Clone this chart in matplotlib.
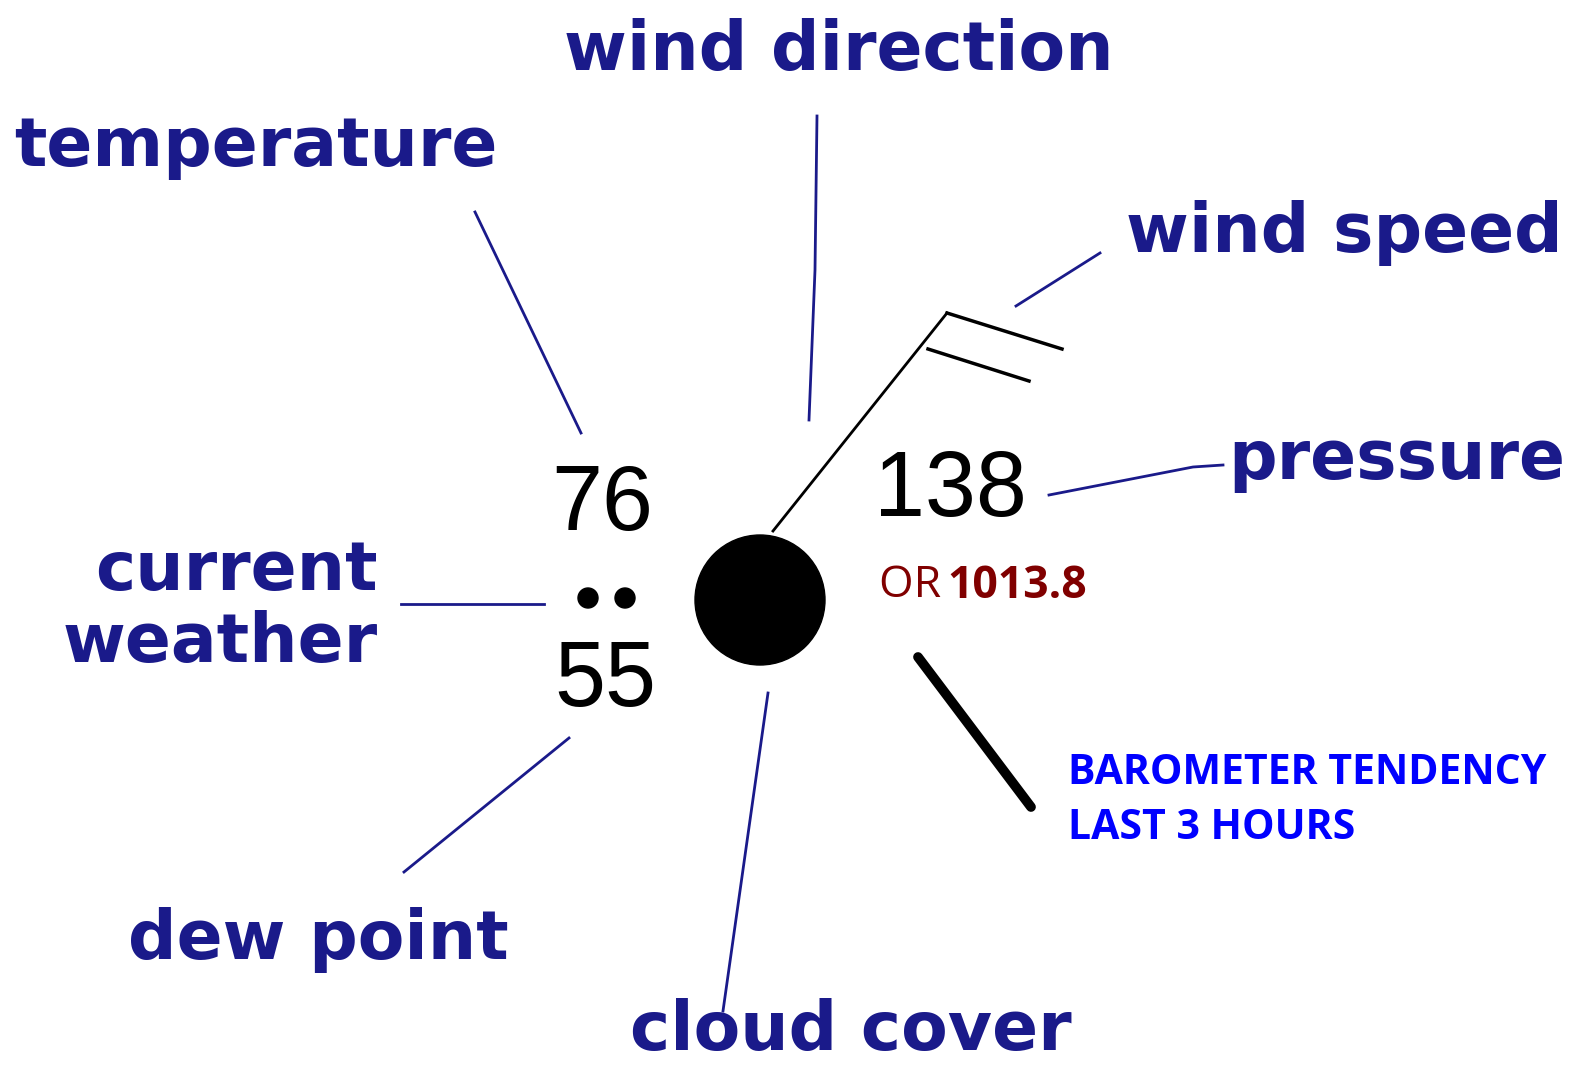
import matplotlib.pyplot as plt
from matplotlib.patches import Circle

# 站点数据
temperature = "76"
dew_point = "55"
pressure_code = "138"
pressure_hpa = "1013.8"
label_names = ["wind direction", "temperature", "wind speed", "pressure",
               "current\nweather", "dew point", "cloud cover"]
tendency_text = "BAROMETER TENDENCY\nLAST 3 HOURS"

navy = '#1a1a8a'

fig = plt.figure(figsize=(15.85, 10.66), dpi=100)
ax = fig.add_axes([0, 0, 1, 1])
ax.set_xlim(0, 1585)
ax.set_ylim(1066, 0)
ax.axis('off')

# 标签文字
lab = dict(color=navy, fontsize=49, fontweight='bold', family='DejaVu Sans')
ax.text(839, 51, label_names[0], ha='center', va='center', **lab)
ax.text(256, 147, label_names[1], ha='center', va='center', **lab)
ax.text(1344, 233, label_names[2], ha='center', va='center', **lab)
ax.text(1397, 460, label_names[3], ha='center', va='center', **lab)
ax.text(378, 607, label_names[4], ha='right', va='center', linespacing=1.1, **lab)
ax.text(318, 940, label_names[5], ha='center', va='center', **lab)
ax.text(851, 1031, label_names[6], ha='center', va='center', **lab)

# 指示线
lines = [
    ([475, 581], [212, 433]),
    ([817, 815, 809], [116, 270, 420]),
    ([1100, 1016], [253, 306]),
    ([1049, 1193, 1223], [495, 467, 465]),
    ([401, 544], [604, 604]),
    ([569, 404], [738, 872]),
    ([768, 723], [693, 1011]),
]
for xs, ys in lines:
    ax.plot(xs, ys, color=navy, linewidth=2)

# 云量圆和风杆
ax.add_patch(Circle((760, 600), 65, color='black'))
ax.plot([773, 947], [531, 313], color='black', linewidth=2)
ax.plot([947, 1062], [313, 349], color='black', linewidth=2.5)
ax.plot([928, 1029], [349, 381], color='black', linewidth=2.5)

# 天气现象（雨点）
ax.add_patch(Circle((588, 598), 10, color='black'))
ax.add_patch(Circle((625, 598), 10, color='black'))

# 数值
num = dict(color='black', fontsize=66, family='Liberation Sans', ha='center', va='center')
ax.text(602, 506, temperature, **num)
ax.text(605, 682, dew_point, **num)
ax.text(950, 492, pressure_code, **num)

ax.text(879, 586, "OR ", color='#800000', fontsize=32, family='Open Sans',
        ha='left', va='center')
ax.text(947, 586, pressure_hpa, color='#800000', fontsize=32, family='Open Sans',
        fontweight='bold', ha='left', va='center')

# 气压趋势
ax.plot([918, 1031], [657, 807], color='black', linewidth=7, solid_capstyle='round')
ax.text(1068, 801, tendency_text, color='#0000ff', fontsize=29.5, family='Open Sans',
        fontweight='bold', ha='left', va='center', linespacing=1.45)

fig.savefig('out.png', dpi=100)
